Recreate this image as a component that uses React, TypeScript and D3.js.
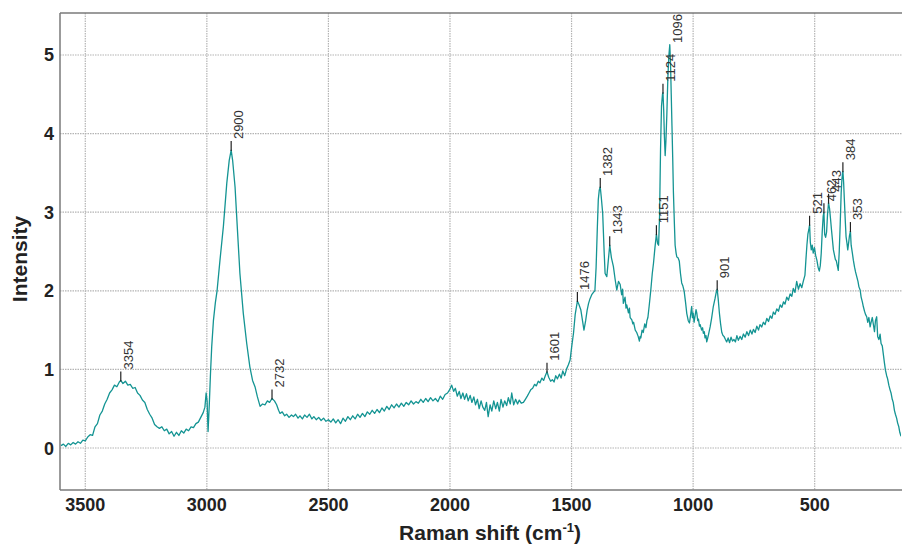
import React from "react";
import * as d3 from "d3";

// Raman spectrum: [Raman shift (cm-1), intensity]
const spectrum: [number, number][] = [
  [3600, 0.03], [3590, 0.05], [3580, 0.02], [3570, 0.06], [3560, 0.04], [3550, 0.07],
  [3540, 0.05], [3530, 0.08], [3520, 0.06], [3510, 0.1], [3500, 0.09], [3490, 0.14],
  [3480, 0.17], [3470, 0.16], [3460, 0.27], [3450, 0.31], [3440, 0.42], [3430, 0.47],
  [3420, 0.56], [3410, 0.62], [3400, 0.7], [3390, 0.74], [3380, 0.8], [3370, 0.78],
  [3360, 0.84], [3354, 0.86], [3345, 0.82], [3335, 0.85], [3325, 0.8], [3315, 0.81],
  [3305, 0.76], [3295, 0.77], [3285, 0.7], [3275, 0.67], [3265, 0.61], [3255, 0.58],
  [3245, 0.49], [3235, 0.43], [3225, 0.38], [3215, 0.3], [3205, 0.27], [3195, 0.25],
  [3185, 0.27], [3175, 0.22], [3165, 0.24], [3155, 0.18], [3145, 0.21], [3135, 0.15],
  [3125, 0.2], [3115, 0.16], [3105, 0.22], [3095, 0.19], [3085, 0.24], [3075, 0.22],
  [3065, 0.27], [3055, 0.26], [3045, 0.31], [3035, 0.33], [3025, 0.39], [3015, 0.45],
  [3008, 0.52], [3003, 0.7], [2999, 0.6], [2995, 0.21], [2990, 0.55], [2985, 0.95],
  [2980, 1.29], [2973, 1.62], [2965, 1.85], [2958, 2.0], [2946, 2.39], [2932, 2.82],
  [2918, 3.37], [2908, 3.66], [2900, 3.79], [2894, 3.66], [2884, 3.32], [2875, 2.82],
  [2864, 2.22], [2850, 1.71], [2836, 1.33], [2823, 1.03], [2812, 0.86], [2802, 0.78],
  [2792, 0.65], [2781, 0.53], [2771, 0.56], [2761, 0.55], [2751, 0.6], [2742, 0.58],
  [2732, 0.63], [2722, 0.6], [2713, 0.55], [2705, 0.48], [2699, 0.44], [2690, 0.46],
  [2680, 0.41], [2672, 0.43], [2662, 0.39], [2652, 0.42], [2644, 0.4], [2635, 0.43],
  [2625, 0.38], [2617, 0.41], [2607, 0.37], [2598, 0.42], [2588, 0.39], [2578, 0.43],
  [2568, 0.37], [2560, 0.4], [2550, 0.36], [2540, 0.39], [2530, 0.35], [2520, 0.38],
  [2510, 0.34], [2500, 0.36], [2490, 0.33], [2480, 0.37], [2470, 0.32], [2460, 0.36],
  [2450, 0.31], [2440, 0.38], [2430, 0.34], [2420, 0.4], [2410, 0.36], [2400, 0.41],
  [2390, 0.37], [2380, 0.43], [2370, 0.39], [2360, 0.44], [2350, 0.4], [2340, 0.46],
  [2330, 0.43], [2320, 0.48], [2310, 0.44], [2300, 0.49], [2290, 0.45], [2280, 0.51],
  [2270, 0.47], [2260, 0.53], [2250, 0.49], [2240, 0.55], [2230, 0.51], [2220, 0.56],
  [2210, 0.52], [2200, 0.57], [2190, 0.53], [2180, 0.58], [2170, 0.55], [2160, 0.6],
  [2150, 0.56], [2140, 0.59], [2130, 0.57], [2120, 0.62], [2110, 0.58], [2100, 0.63],
  [2090, 0.59], [2080, 0.64], [2070, 0.6], [2060, 0.63], [2050, 0.59], [2040, 0.66],
  [2030, 0.62], [2020, 0.68], [2010, 0.7], [2000, 0.75], [1993, 0.8], [1985, 0.72],
  [1978, 0.76], [1970, 0.66], [1962, 0.72], [1955, 0.63], [1947, 0.7], [1940, 0.62],
  [1932, 0.69], [1925, 0.6], [1917, 0.67], [1910, 0.58], [1902, 0.65], [1895, 0.55],
  [1887, 0.62], [1880, 0.5], [1872, 0.6], [1865, 0.52], [1857, 0.48], [1850, 0.58],
  [1843, 0.4], [1835, 0.55], [1828, 0.47], [1820, 0.6], [1812, 0.5], [1805, 0.58],
  [1797, 0.47], [1790, 0.62], [1782, 0.52], [1775, 0.6], [1767, 0.54], [1760, 0.64],
  [1752, 0.56], [1746, 0.7], [1738, 0.55], [1730, 0.62], [1722, 0.56], [1715, 0.61],
  [1707, 0.57], [1698, 0.58], [1690, 0.62], [1682, 0.66], [1675, 0.7], [1668, 0.74],
  [1660, 0.76], [1652, 0.81], [1645, 0.79], [1637, 0.85], [1630, 0.83], [1622, 0.89],
  [1615, 0.86], [1608, 0.92], [1601, 0.97], [1594, 0.9], [1586, 0.85], [1579, 0.87],
  [1572, 0.84], [1565, 0.92], [1558, 0.88], [1550, 0.94], [1543, 0.89], [1536, 0.98],
  [1528, 0.92], [1520, 1.01], [1513, 1.06], [1506, 1.12], [1499, 1.3], [1492, 1.46],
  [1485, 1.7], [1476, 1.87], [1470, 1.83], [1462, 1.76], [1455, 1.62], [1449, 1.5],
  [1442, 1.62], [1436, 1.75], [1430, 1.84], [1424, 1.9], [1417, 1.95], [1410, 1.98],
  [1404, 2.0], [1399, 2.3], [1394, 2.8], [1390, 3.16], [1386, 3.28], [1382, 3.32],
  [1378, 3.2], [1372, 2.99], [1366, 2.5], [1362, 2.22], [1355, 2.18], [1349, 2.38],
  [1343, 2.58], [1336, 2.42], [1328, 2.31], [1321, 2.15], [1314, 2.01], [1307, 2.12],
  [1300, 2.08], [1294, 1.95], [1290, 2.02], [1287, 1.84], [1280, 1.92], [1276, 1.78],
  [1273, 1.82], [1266, 1.72], [1262, 1.78], [1259, 1.66], [1252, 1.63], [1248, 1.58],
  [1245, 1.6], [1238, 1.5], [1232, 1.47], [1226, 1.42], [1221, 1.36], [1218, 1.42],
  [1215, 1.4], [1210, 1.5], [1205, 1.47], [1199, 1.58], [1194, 1.53], [1190, 1.62],
  [1186, 1.66], [1181, 1.8], [1174, 2.01], [1168, 2.22], [1163, 2.35], [1157, 2.55],
  [1151, 2.72], [1146, 2.6], [1142, 2.58], [1138, 2.95], [1134, 3.8], [1130, 4.35],
  [1126, 4.5], [1124, 4.52], [1121, 4.3], [1118, 3.95], [1115, 3.72], [1112, 3.9],
  [1108, 4.25], [1104, 4.7], [1100, 4.98], [1096, 5.13], [1093, 4.9], [1090, 4.5],
  [1087, 4.1], [1084, 3.7], [1081, 3.25], [1077, 2.85], [1074, 2.58], [1070, 2.48],
  [1067, 2.43], [1062, 2.42], [1057, 2.38], [1052, 2.22], [1047, 2.1], [1042, 2.06],
  [1037, 2.0], [1031, 1.85], [1026, 1.71], [1020, 1.62], [1015, 1.59], [1010, 1.7],
  [1006, 1.8], [1003, 1.66], [1000, 1.72], [996, 1.6], [992, 1.68], [988, 1.76],
  [985, 1.72], [981, 1.62], [978, 1.64], [974, 1.55], [971, 1.57], [965, 1.5],
  [961, 1.53], [958, 1.46], [954, 1.48], [951, 1.4], [947, 1.43], [944, 1.35],
  [940, 1.4], [937, 1.44], [930, 1.54], [924, 1.65], [917, 1.8], [910, 1.9], [905, 1.98],
  [901, 2.02], [897, 1.9], [892, 1.72], [887, 1.58], [882, 1.47], [877, 1.43],
  [873, 1.42], [867, 1.38], [862, 1.35], [856, 1.4], [850, 1.34], [844, 1.41],
  [838, 1.36], [832, 1.38], [826, 1.35], [820, 1.43], [814, 1.37], [807, 1.42],
  [800, 1.38], [793, 1.45], [786, 1.41], [779, 1.48], [772, 1.43], [765, 1.5],
  [758, 1.45], [752, 1.51], [745, 1.47], [738, 1.55], [731, 1.5], [725, 1.57],
  [718, 1.54], [711, 1.6], [704, 1.57], [697, 1.65], [690, 1.61], [683, 1.68],
  [676, 1.65], [670, 1.73], [663, 1.7], [656, 1.77], [649, 1.74], [642, 1.82],
  [635, 1.79], [628, 1.86], [622, 1.83], [615, 1.92], [608, 1.88], [601, 1.96],
  [594, 1.93], [588, 2.03], [581, 1.98], [574, 2.12], [567, 2.02], [560, 2.09],
  [553, 2.04], [547, 2.12], [540, 2.2], [536, 2.4], [532, 2.58], [528, 2.72],
  [524, 2.78], [521, 2.84], [518, 2.62], [514, 2.52], [510, 2.58], [506, 2.48],
  [501, 2.55], [496, 2.45], [491, 2.39], [486, 2.3], [481, 2.25], [477, 2.32],
  [473, 2.48], [469, 2.75], [465, 2.95], [462, 3.0], [459, 2.72], [455, 2.68],
  [451, 2.75], [447, 2.98], [443, 3.12], [439, 3.05], [435, 2.92], [431, 2.78],
  [427, 2.65], [423, 2.52], [419, 2.46], [415, 2.4], [411, 2.38], [407, 2.32],
  [403, 2.26], [399, 2.5], [395, 2.85], [391, 3.25], [388, 3.42], [384, 3.52],
  [381, 3.38], [378, 3.16], [374, 2.88], [371, 2.69], [367, 2.6], [364, 2.52],
  [360, 2.62], [357, 2.7], [353, 2.76], [350, 2.58], [345, 2.48], [341, 2.39],
  [336, 2.3], [332, 2.24], [327, 2.18], [322, 2.12], [318, 2.05], [313, 2.01],
  [309, 1.92], [304, 1.86], [300, 1.8], [295, 1.74], [291, 1.7], [286, 1.67],
  [282, 1.6], [277, 1.66], [272, 1.54], [268, 1.6], [263, 1.66], [259, 1.58],
  [254, 1.48], [250, 1.62], [245, 1.67], [241, 1.42], [236, 1.38], [231, 1.45],
  [227, 1.33], [222, 1.3], [218, 1.2], [213, 1.08], [209, 0.99], [204, 0.92],
  [200, 0.88], [195, 0.8], [190, 0.74], [186, 0.7], [181, 0.62], [177, 0.58],
  [172, 0.48], [168, 0.43], [163, 0.38], [159, 0.32], [154, 0.27], [150, 0.2],
  [145, 0.15],
];

// Labelled band positions (cm-1)
const peakShifts = [3354, 2900, 2732, 1601, 1476, 1382, 1343, 1151, 1124, 1096, 901, 521, 462, 443, 384, 353];

const xTicks = [3500, 3000, 2500, 2000, 1500, 1000, 500];
const yTicks = [0, 1, 2, 3, 4, 5];

const W = 902;
const H = 545;
const plot = { left: 60, right: 901, top: 13, bottom: 490 };

const LINE_COLOR = "#149493";
const FONT = "'Liberation Sans', Arial, Helvetica, sans-serif";

export default function App() {
  const x = d3.scaleLinear().domain([3604, 145]).range([plot.left, plot.right]);
  const y = d3.scaleLinear().domain([-0.534, 5.534]).range([plot.bottom, plot.top]);

  const line = d3
    .line<[number, number]>()
    .x((d) => x(d[0]))
    .y((d) => y(d[1]));

  const peakValue = (s: number) => {
    let best = spectrum[0];
    for (const p of spectrum) if (Math.abs(p[0] - s) < Math.abs(best[0] - s)) best = p;
    return best[1];
  };

  const labelSize = 13;

  return (
    <div style={{ position: "absolute", left: 0, top: 0 }}>
      <svg width={W} height={H} style={{ display: "block", background: "#fff" }}>
        <defs>
          <clipPath id="plot-clip">
            <rect x={plot.left} y={plot.top} width={plot.right - plot.left} height={plot.bottom - plot.top} />
          </clipPath>
        </defs>

        {/* grid */}
        <g stroke="#b4b4b4" strokeWidth={1.2} strokeDasharray="1.5,1">
          {xTicks.map((t) => (
            <line key={"gx" + t} x1={x(t)} x2={x(t)} y1={plot.top} y2={plot.bottom} />
          ))}
          {yTicks.map((t) => (
            <line key={"gy" + t} x1={plot.left} x2={plot.right + 1} y1={y(t)} y2={y(t)} />
          ))}
        </g>

        {/* frame */}
        <g stroke="#7a7a7a" strokeWidth={1.5} fill="none">
          <line x1={plot.left} x2={W} y1={plot.top} y2={plot.top} />
          <line x1={plot.left} x2={W} y1={plot.bottom} y2={plot.bottom} />
          <line x1={plot.left} x2={plot.left} y1={plot.top} y2={plot.bottom} />
        </g>

        {/* spectrum */}
        <path
          d={line(spectrum) || ""}
          fill="none"
          stroke={LINE_COLOR}
          strokeWidth={1.3}
          strokeLinejoin="round"
          clipPath="url(#plot-clip)"
        />

        {/* peak markers */}
        <g fontFamily={FONT} fontSize={labelSize} fill="#333">
          {peakShifts.map((s) => {
            const px = x(s);
            const py = y(peakValue(s));
            const label = String(s);
            const len = label.length * 0.556 * labelSize;
            const textStart = Math.max(py - 11, plot.top + len + 1);
            const tickTop = Math.max(py - 9, textStart + 2);
            return (
              <g key={"pk" + s}>
                {py + 1 - tickTop > 1 && (
                  <line x1={px} x2={px} y1={py + 1} y2={tickTop} stroke="#222" strokeWidth={1.2} />
                )}
                <text transform={`translate(${px + 12},${textStart}) rotate(-90)`} textAnchor="start">
                  {label}
                </text>
              </g>
            );
          })}
        </g>

        {/* tick labels */}
        <g fontFamily={FONT} fontSize={18} fontWeight="bold" fill="#222">
          {xTicks.map((t) => (
            <text key={"tx" + t} x={x(t)} y={511} textAnchor="middle">
              {t}
            </text>
          ))}
          {yTicks.map((t) => (
            <text key={"ty" + t} x={54} y={y(t) + 6.5} textAnchor="end">
              {t}
            </text>
          ))}
        </g>

        {/* axis titles */}
        <text
          x={490}
          y={540}
          textAnchor="middle"
          fontFamily={FONT}
          fontSize={21}
          fontWeight="bold"
          fill="#222"
        >
          Raman shift (cm
          <tspan fontSize={13} dy={-8}>-1</tspan>
          <tspan dy={8}>)</tspan>
        </text>
        <text
          transform="translate(27,259) rotate(-90)"
          textAnchor="middle"
          fontFamily={FONT}
          fontSize={21}
          fontWeight="bold"
          fill="#222"
        >
          Intensity
        </text>
      </svg>
    </div>
  );
}
